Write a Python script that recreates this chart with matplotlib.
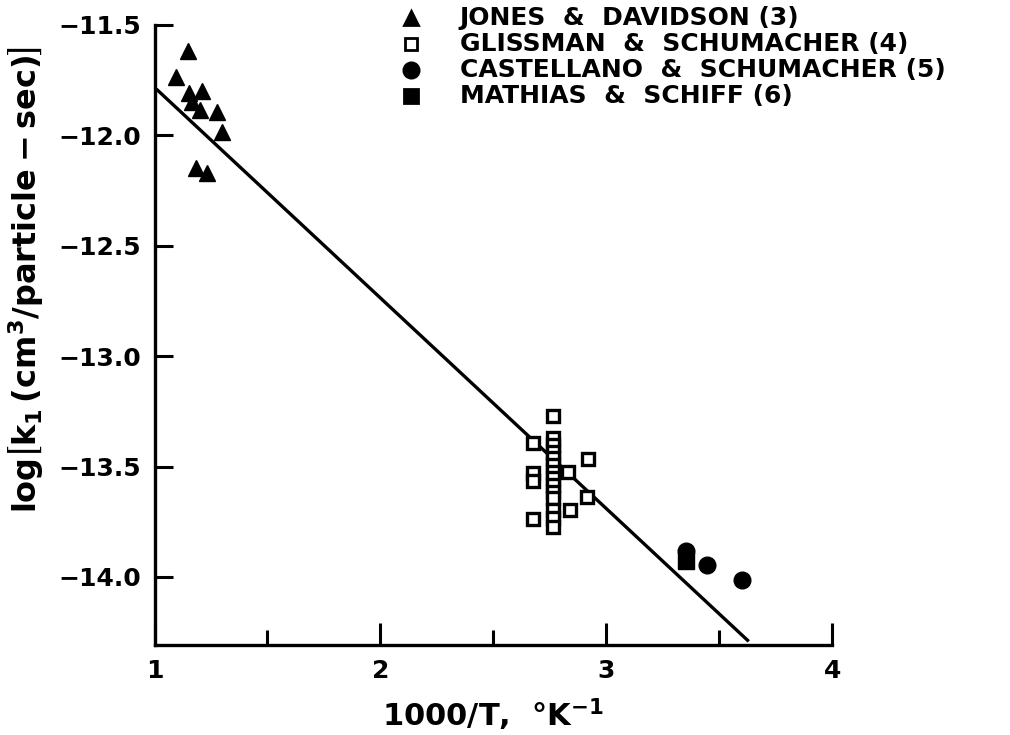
import matplotlib
matplotlib.use("Agg")
import matplotlib.pyplot as plt
from matplotlib.ticker import MultipleLocator, FixedLocator

# Jones & Davidson (3) - filled triangles
jd_x = [1.146, 1.093, 1.151, 1.210, 1.164, 1.200, 1.275, 1.300, 1.185, 1.232]
jd_y = [-11.62, -11.736, -11.81, -11.80, -11.85, -11.886, -11.895, -11.986, -12.15, -12.17]

# Glissman & Schumacher (4) - open squares
gs_x = [2.764, 2.764, 2.764, 2.764, 2.764, 2.764, 2.764, 2.764, 2.764, 2.764,
        2.764, 2.764, 2.764, 2.764,
        2.675, 2.675, 2.675, 2.675, 2.830, 2.918, 2.914, 2.839]
gs_y = [-13.273, -13.371, -13.401, -13.432, -13.462, -13.492, -13.523, -13.553,
        -13.583, -13.614, -13.644, -13.697, -13.735, -13.773,
        -13.395, -13.53, -13.565, -13.736, -13.523, -13.468, -13.636, -13.695]

# Castellano & Schumacher (5) - filled circles
cs_x = [3.353, 3.446, 3.600]
cs_y = [-13.882, -13.945, -14.014]

# Mathias & Schiff (6) - filled square
ms_x = [3.353]
ms_y = [-13.93]

# Fitted line
fit_x = [1.013, 3.625]
fit_y = [-11.795, -14.287]

labels = ["JONES  &  DAVIDSON (3)", "GLISSMAN  &  SCHUMACHER (4)",
          "CASTELLANO  &  SCHUMACHER (5)", "MATHIAS  &  SCHIFF (6)"]

x_ticks = [1, 2, 3, 4]
y_ticks = [-11.5, -12.0, -12.5, -13.0, -13.5, -14.0]

plt.rcParams['font.family'] = ['DejaVu Sans']
plt.rcParams['font.weight'] = 'bold'
plt.rcParams['mathtext.fontset'] = 'dejavusans'
plt.rcParams['mathtext.default'] = 'bf'

fig = plt.figure(figsize=(10.1, 7.35), dpi=100)
ax = fig.add_axes([0.153, 0.122, 0.671, 0.844])

ax.plot(fit_x, fit_y, color='black', lw=2.4, zorder=2)
ax.plot(jd_x, jd_y, linestyle='none', marker='^', ms=12, color='black', zorder=3)
ax.plot(gs_x, gs_y, linestyle='none', marker='s', ms=8, mfc='white', mec='black',
        mew=2.4, zorder=3)
ax.plot(cs_x, cs_y, linestyle='none', marker='o', ms=12, color='black', zorder=3)
ax.plot(ms_x, ms_y, linestyle='none', marker='s', ms=11, color='black', zorder=3)

ax.set_xlim(1, 4)
ax.set_ylim(-14.31, -11.5)
ax.xaxis.set_major_locator(FixedLocator(x_ticks))
ax.xaxis.set_minor_locator(MultipleLocator(0.5))
ax.yaxis.set_major_locator(FixedLocator(y_ticks))
ax.set_xticklabels([str(v) for v in x_ticks])
ax.set_yticklabels([f"\u2212{abs(v):.1f}" for v in y_ticks])

for s in ['top', 'right']:
    ax.spines[s].set_visible(False)
for s in ['left', 'bottom']:
    ax.spines[s].set_linewidth(2.4)

ax.tick_params(axis='both', which='major', direction='in', width=2.2,
               labelsize=18, pad=10)
ax.tick_params(axis='x', which='major', length=16)
ax.tick_params(axis='x', which='minor', direction='in', length=11, width=2.2)
ax.tick_params(axis='y', which='major', length=13)
for lab in ax.get_xticklabels() + ax.get_yticklabels():
    lab.set_fontweight('bold')

ax.set_xlabel(r"1000/T,  $\degree$K$^{-1}$", fontsize=22, fontweight='bold')
ax.set_ylabel(r"log$\left[\mathbf{k_1\,(cm^3/particle-sec)}\right]$", fontsize=23,
              fontweight='bold')
ax.yaxis.set_label_coords(-0.16, 0.59)
ax.xaxis.set_label_coords(0.5, -0.082)

# Legend
mk = ['^', 's', 'o', 's']
fills = ['black', 'white', 'black', 'black']
sizes = [10, 8, 11, 10]
leg_y = [0.9755, 0.940, 0.905, 0.869]
for m, f, sz, lab, yy in zip(mk, fills, sizes, labels, leg_y):
    fig.lines.append(plt.Line2D([0.407], [yy], transform=fig.transFigure,
                                marker=m, ms=sz, mfc=f, mec='black', mew=2,
                                linestyle='none'))
    fig.text(0.455, yy, lab, fontsize=18, fontweight='bold', va='center',
             ha='left')

fig.savefig('out.png', dpi=100)
